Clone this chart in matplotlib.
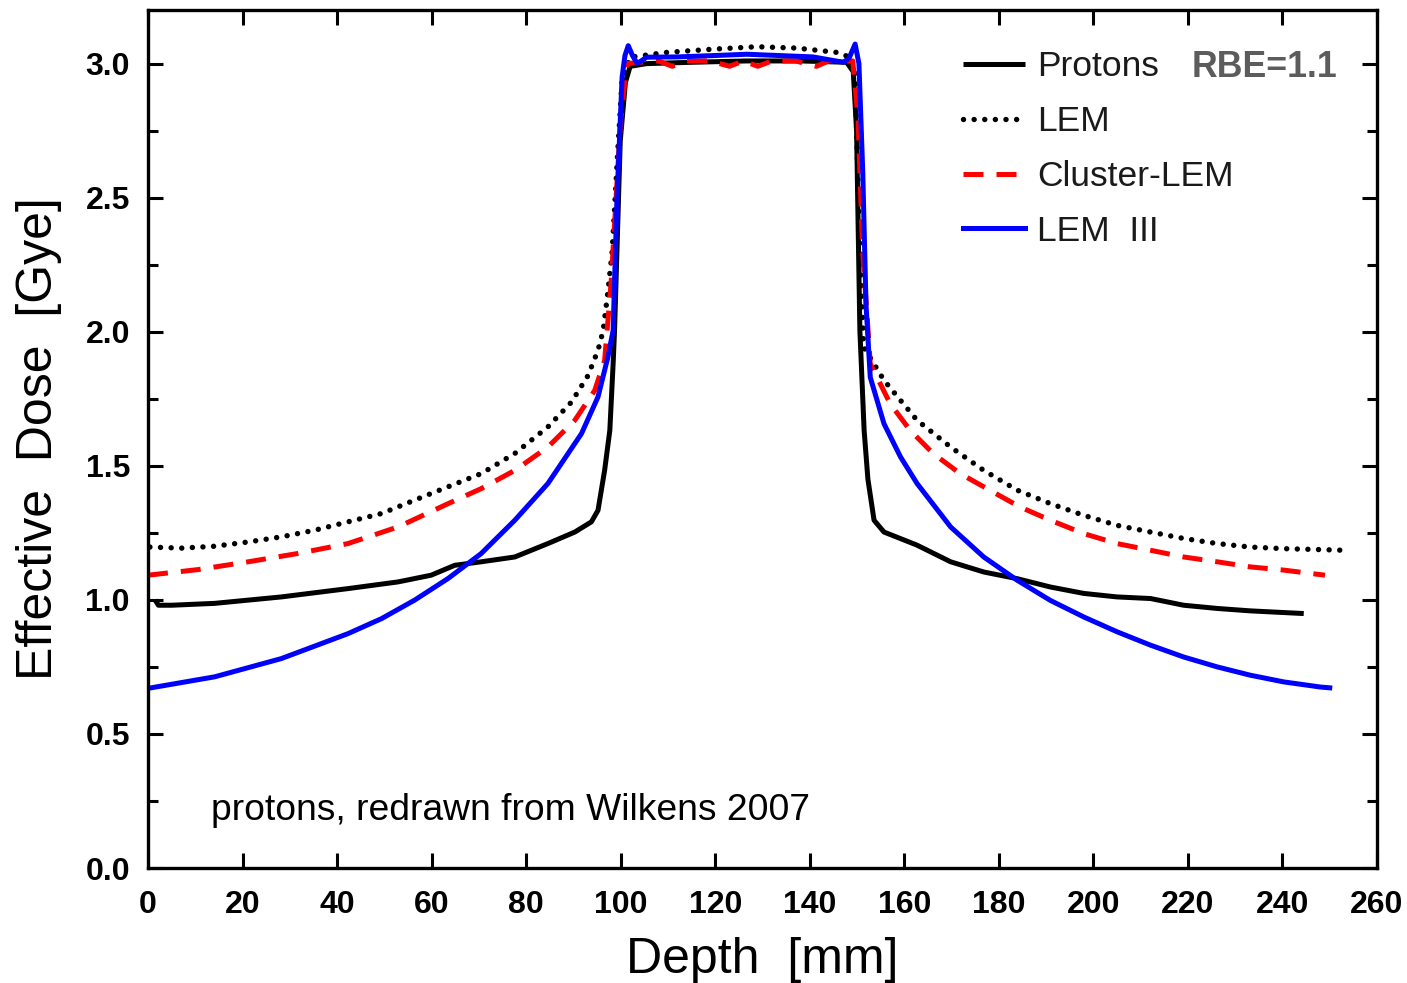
import matplotlib
matplotlib.use("Agg")
import matplotlib.pyplot as plt
from matplotlib.ticker import MultipleLocator

# ---- data ----
protons_x = [1.5, 2.2, 5, 14.1, 28.2, 42.3, 52.9, 59.9, 64.9, 70.5, 77.6, 84.6, 90.3, 93.8, 95.2,
             96.6, 97.7, 98.4, 98.7, 99.9, 101.0, 102.0, 105.5, 115, 126.6, 138, 147.8, 149.2,
             149.9, 150.6, 151.5, 152.3, 153.6, 155.7, 162.7, 169.8, 176.8, 183.9, 190.9, 198.0,
             205.0, 212.1, 219.1, 226.2, 233.2, 244.5]
protons_y = [1.0, 0.98, 0.98, 0.987, 1.011, 1.042, 1.067, 1.092, 1.129, 1.142, 1.160, 1.210, 1.253,
             1.291, 1.334, 1.483, 1.632, 1.881, 2.005, 2.71, 2.93, 2.99, 3.0, 3.005, 3.01, 3.01,
             3.005, 2.97, 2.75, 2.005, 1.632, 1.45, 1.297, 1.253, 1.204, 1.142, 1.104, 1.079,
             1.048, 1.024, 1.011, 1.005, 0.980, 0.968, 0.959, 0.949]

lem_x = [0.4, 7.1, 14.1, 21.2, 28.2, 35.3, 42.3, 49.4, 56.4, 63.5, 70.5, 77.6, 84.6, 89.6, 93.1,
         95.2, 96.3, 97.3, 98.2, 99.4, 100.3, 102.0, 109.8, 119.6, 128.8, 137.2, 145.7, 148.5,
         149.6, 149.9, 150.6, 151.4, 155.7, 159.2, 162.7, 169.8, 176.8, 183.9, 190.9, 198.0,
         205.0, 212.1, 219.1, 226.2, 233.2, 240.3, 249.1, 253.0]
lem_y = [1.197, 1.193, 1.200, 1.216, 1.235, 1.260, 1.291, 1.322, 1.372, 1.422, 1.471, 1.546, 1.645,
         1.738, 1.837, 1.931, 2.005, 2.15, 2.30, 2.68, 2.94, 3.024, 3.042, 3.054, 3.063, 3.058,
         3.042, 3.024, 2.96, 2.75, 2.3, 1.943, 1.819, 1.744, 1.670, 1.570, 1.483, 1.409, 1.359,
         1.315, 1.278, 1.253, 1.229, 1.210, 1.197, 1.191, 1.187, 1.185]

cluster_x = [0.0, 10.6, 21.2, 31.7, 42.3, 52.9, 63.5, 70.5, 77.6, 84.6, 90.3, 94.5, 96.6, 98.0,
             100.0, 101.3, 104, 108, 110.9, 114, 119, 123, 126, 129, 132, 137, 141.4, 144, 149.1,
             150.2, 151.2, 152.8, 157.0, 161.2, 166.1, 171.8, 178.1, 184.4, 190.9, 198.0, 205.0,
             212.1, 219.1, 226.2, 233.2, 240.3, 249.0]
cluster_y = [1.092, 1.113, 1.142, 1.173, 1.210, 1.272, 1.359, 1.415, 1.483, 1.570, 1.670, 1.781,
             1.893, 2.19, 2.79, 3.0, 3.005, 3.01, 2.99, 3.01, 3.01, 2.99, 3.01, 2.99, 3.01, 3.01,
             2.99, 3.01, 3.01, 2.8, 2.3, 1.881, 1.732, 1.633, 1.546, 1.471, 1.409, 1.347, 1.297,
             1.247, 1.210, 1.185, 1.160, 1.142, 1.123, 1.111, 1.092]

lem3_x = [0.0, 14.1, 28.2, 42.3, 49.4, 56.4, 63.5, 70.5, 77.6, 84.6, 91.7, 95.2, 97.3, 98.4, 99.2,
          100.3, 100.9, 101.6, 102.5, 103.5, 105.5, 112, 119.6, 126.7, 133.7, 140.7, 147.1, 148.3,
          149.6, 150.4, 151.2, 151.9, 152.8, 155.7, 159.2, 162.7, 169.8, 176.8, 183.9, 190.9,
          198.0, 205.0, 212.1, 219.1, 226.2, 233.2, 240.3, 248.0, 250.0]
lem3_y = [0.670, 0.713, 0.781, 0.874, 0.930, 0.999, 1.080, 1.173, 1.297, 1.434, 1.620, 1.757, 1.906,
          2.005, 2.49, 2.95, 3.03, 3.067, 3.03, 3.0, 3.024, 3.025, 3.030, 3.035, 3.030, 3.025,
          3.005, 3.02, 3.073, 3.0, 2.6, 2.1, 1.83, 1.657, 1.533, 1.434, 1.272, 1.160, 1.073, 0.998,
          0.936, 0.881, 0.831, 0.787, 0.750, 0.719, 0.694, 0.675, 0.672]

series_labels = ["Protons", "LEM", "Cluster-LEM", "LEM  III"]
x_ticks = list(range(0, 261, 20))
y_ticks = [0.0, 0.5, 1.0, 1.5, 2.0, 2.5, 3.0]

# ---- figure ----
sans = ['Liberation Sans', 'DejaVu Sans']

fig = plt.figure(figsize=(14.07, 9.83), dpi=100)
ax = fig.add_axes([148/1407, 1-868/983, (1377-148)/1407, (868-10)/983])

lw = 3.6
ax.plot(protons_x, protons_y, color='black', lw=lw, solid_capstyle='butt', label=series_labels[0])
ax.plot(lem_x, lem_y, color='black', lw=3.9, linestyle=(0, (0.01, 1.95)), dash_capstyle='round',
        label=series_labels[1])
ax.plot(cluster_x, cluster_y, color='#ff0000', lw=lw, linestyle=(0, (4.0, 2.6)), dash_capstyle='butt',
        label=series_labels[2])
ax.plot(lem3_x, lem3_y, color='#0000ff', lw=lw, label=series_labels[3])

ax.set_xlim(0, 260)
ax.set_ylim(0, 3.2)
ax.set_xticks(x_ticks)
ax.set_yticks(y_ticks)
ax.yaxis.set_minor_locator(MultipleLocator(0.25))
ax.set_xticklabels([str(v) for v in x_ticks], family=sans, fontweight='bold', fontsize=23)
ax.set_yticklabels([f"{v:.1f}" for v in y_ticks], family=sans, fontweight='bold', fontsize=23)

ax.tick_params(which='both', direction='in', top=True, right=True, width=2.2)
ax.tick_params(which='major', length=10.5)
ax.tick_params(which='minor', length=7)
ax.tick_params(axis='x', pad=16)
ax.tick_params(axis='y', pad=13)
for s in ax.spines.values():
    s.set_linewidth(2.4)

ax.set_xlabel("Depth  [mm]", family=sans, fontsize=36, labelpad=12)
ax.set_ylabel("Effective  Dose  [Gye]", family=sans, fontsize=36, labelpad=17)

leg = ax.legend(loc='upper left', bbox_to_anchor=((963-148)/1229, (868-50)/858),
                frameon=False, borderpad=0, borderaxespad=0, handlelength=1.75,
                handletextpad=0.34, labelspacing=0.62,
                prop={'family': sans, 'size': 25.5})
for t in leg.get_texts():
    t.set_color('#1a1a1a')

fig.text(1192/1407, 1-77/983, "RBE=1.1", family=sans,
         fontweight='bold', fontsize=25.7, color='#5c5c5c', va='baseline', ha='left')
ax.text((211-148)/1229, (868-811)/858, "protons, redrawn from Wilkens 2007",
        transform=ax.transAxes, family=sans, fontsize=26.8, va='center', ha='left')

fig.savefig("out.png", dpi=100)
